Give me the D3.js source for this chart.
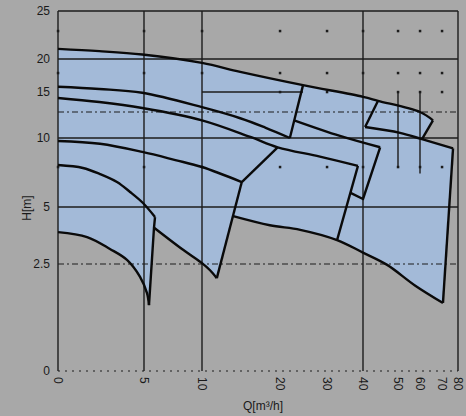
<!DOCTYPE html>
<html><head><meta charset="utf-8">
<script src="https://cdn.jsdelivr.net/npm/d3@7"></script>
<style>
html,body{margin:0;padding:0;background:#a8a8a8;}
svg{display:block;}
text{font-family:"Liberation Sans",Arial,sans-serif;fill:#1a1a1a;}
</style></head><body>
<svg id="c" width="466" height="416"></svg>
<script>
// ---- axis ticks ----
const xTicks = [0,5,10,20,30,40,50,60,70,80];
const yTicks = [0,2.5,5,10,15,20,25];
const xTickLabels = ["0","5","10","20","30","40","50","60","70","80"];
const yTickLabels = ["0","2.5","5","10","15","20","25"];
const xGridSolid = [0,5,10,40,80];
const yGridSolid = [5,10,20,25];
const yGridDashDot = [2.5,12.5];
const yGridDotted = [0];
const dotQ = [0,5,10,20,30,40,50,60,70];
const dotH = [22.5,17.5,7.5];
const dotQ15 = [20,30,50,60,70];
const partialV = [[50,15,7.5],[60,15,7.1]];   // [Q, Hfrom, Hto]
const partialH = [[15,10,24.9]];              // [H, Qfrom, Qto]

// ---- Q-H curves [Q m3/h, H m] ----
const curveTop  = [[0,20.9],[2.4,20.7],[4.9,20.4],[10,19.3],[14.9,17.7],[24.9,15.9],[40,14.4],[44.3,13.9],[60,12.5],[65.9,11.7]];
const curve3a   = [[0,15.7],[2.4,15.4],[4.9,14.9],[10,13.1],[14.9,11.9],[18.1,11.0],[22.1,10.0]];
const curve3b   = [[0,14.25],[2.4,13.75],[4.9,13.0],[10,11.7],[16.2,10.1],[19.7,9.2],[28.5,8.4],[38.6,7.6]];
const curve2    = [[0,9.74],[2.44,9.5],[4.9,8.8],[7.7,8.1],[10,7.5],[15.1,6.56]];
const curve1    = [[0,7.67],[1.45,7.44],[2.44,7.06],[3.43,6.56],[4.19,5.94],[4.94,5.25],[5.95,4.56]];
const curveF    = [[23.0,11.7],[33.6,10.2],[44.9,9.2]];
const curveH    = [[40.6,11.06],[50.9,10.5],[60.9,9.9],[76.9,9.1]];
const bottomBig = [[14.0,4.6],[18.7,4.2],[24.3,4.0],[32.8,3.55],[40,3.0],[46.9,2.48],[57.7,2.0],[70.6,1.59]];
const bottom2   = [[5.9,4.08],[8.4,3.11],[10,2.54],[11.0,2.36],[11.9,2.17]];
const bottom1   = [[0,3.9],[1.69,3.68],[3.02,3.16],[4.01,2.68],[4.77,2.2],[5.26,1.82],[5.43,1.54]];
// ---- straight limit sides ----
const side1 = [[5.95,4.56],[5.86,4.08],[5.43,1.54]];
const side2 = [[15.1,6.56],[11.9,2.17]];
const side3 = [[15.1,6.56],[19.7,9.2]];
const side4 = [[24.9,15.9],[22.1,10.0]];
const side5 = [[38.6,7.6],[32.8,3.55]];
const side6 = [[44.9,9.2],[40,5.5],[36.4,5.9]];
const side7 = [[44.3,13.9],[40.6,11.06]];
const side8 = [[65.9,11.7],[60.9,9.9]];
const side9 = [[76.9,9.1],[70.6,1.59]];

const svg = d3.select("#c");
const x = d3.scaleLinear().domain([0,5,10,20,30,40,50,60,70,80])
  .range([58,144,202,280,327,363,398,420,442,458]);
const y = d3.scaleLinear().domain([0,2.5,5,7.5,10,12.5,15,17.5,20,22.5,25])
  .range([371,264,207,167,138,112,92,73,59,31,11]);

const curved = d3.line().x(d=>x(d[0])).y(d=>y(d[1])).curve(d3.curveCatmullRom.alpha(0.5));
const straight = d3.line().x(d=>x(d[0])).y(d=>y(d[1]));

// ---- blue operating area (outline of all ranges) ----
const rev = a => a.slice().reverse();
const pieces = [
  [curved, curveTop],
  [straight, side8],
  [straight, [[60.9,9.9],[76.9,9.1]]],
  [straight, side9],
  [curved, rev(bottomBig)],
  [straight, [[14.0,4.6],[11.9,2.17]]],
  [curved, rev(bottom2)],
  [straight, side1.slice(1)],
  [curved, rev(bottom1)]
];
const fillPath = pieces.map((p,i)=>{
  const s = p[0](p[1]);
  return i ? s.replace(/^M/,"L") : s;
}).join("") + "Z";
svg.append("path").attr("d",fillPath).attr("fill","#a3bad8").attr("stroke","none");

// ---- grid ----
const g = svg.append("g").attr("stroke","#1c1c1c").attr("fill","none");
xGridSolid.forEach(q=>{
  g.append("line").attr("x1",x(q)).attr("x2",x(q)).attr("y1",y(25)).attr("y2",y(0)).attr("stroke-width",1.4);
});
yGridSolid.forEach(h=>{
  g.append("line").attr("x1",x(0)).attr("x2",x(80)).attr("y1",y(h)).attr("y2",y(h)).attr("stroke-width",1.4);
});
yGridDashDot.forEach(h=>{
  g.append("line").attr("x1",x(0)).attr("x2",x(80)).attr("y1",y(h)).attr("y2",y(h))
   .attr("stroke-width",1.2).attr("stroke-dasharray","6,3,2,3");
});
yGridDotted.forEach(h=>{
  g.append("line").attr("x1",x(0)).attr("x2",x(80)).attr("y1",y(h)).attr("y2",y(h))
   .attr("stroke-width",1.2).attr("stroke-dasharray","2,5");
});
partialV.forEach(d=>{
  g.append("line").attr("x1",x(d[0])).attr("x2",x(d[0])).attr("y1",y(d[1])).attr("y2",y(d[2])).attr("stroke-width",1.4);
});
partialH.forEach(d=>{
  g.append("line").attr("x1",x(d[1])).attr("x2",x(d[2])).attr("y1",y(d[0])).attr("y2",y(d[0])).attr("stroke-width",1.4);
});
const dots = [];
dotQ.forEach(q=>dotH.forEach(h=>dots.push([q,h])));
dotQ15.forEach(q=>dots.push([q,15]));
svg.append("g").selectAll("rect").data(dots).join("rect")
  .attr("x",d=>x(d[0])-1.2).attr("y",d=>y(d[1])-1.2).attr("width",2.5).attr("height",2.5).attr("fill","#1c1c1c");

// ---- curves ----
const c = svg.append("g").attr("fill","none").attr("stroke","#0a0a0a").attr("stroke-width",2.4).attr("stroke-linejoin","round");
[curveTop,curve3a,curve3b,curve2,curve1,curveF,curveH,bottomBig,bottom2,bottom1].forEach(d=>{
  c.append("path").attr("d",curved(d));
});
[side1,side2,side3,side4,side5,side6,side7,side8,side9].forEach(d=>{
  c.append("path").attr("d",straight(d));
});

// ---- labels ----
svg.append("g").selectAll("text").data(yTicks).join("text")
  .attr("x",50).attr("y",d=>y(d)).attr("text-anchor","end").attr("dominant-baseline","central")
  .attr("font-size",12).text((d,i)=>yTickLabels[i]);
svg.append("g").selectAll("text").data(xTicks).join("text")
  .attr("x",d=>x(d)).attr("y",377).attr("text-anchor","start").attr("dominant-baseline","central")
  .attr("transform",d=>`rotate(90,${x(d)},377)`)
  .attr("font-size",12).text((d,i)=>xTickLabels[i]);
svg.append("text").attr("transform","translate(27,208) rotate(-90)")
  .attr("text-anchor","middle").attr("dominant-baseline","central").attr("font-size",12).text("H[m]");
svg.append("text").attr("x",263).attr("y",410).attr("text-anchor","middle").attr("font-size",12).text("Q[m³/h]");
</script>
</body></html>
